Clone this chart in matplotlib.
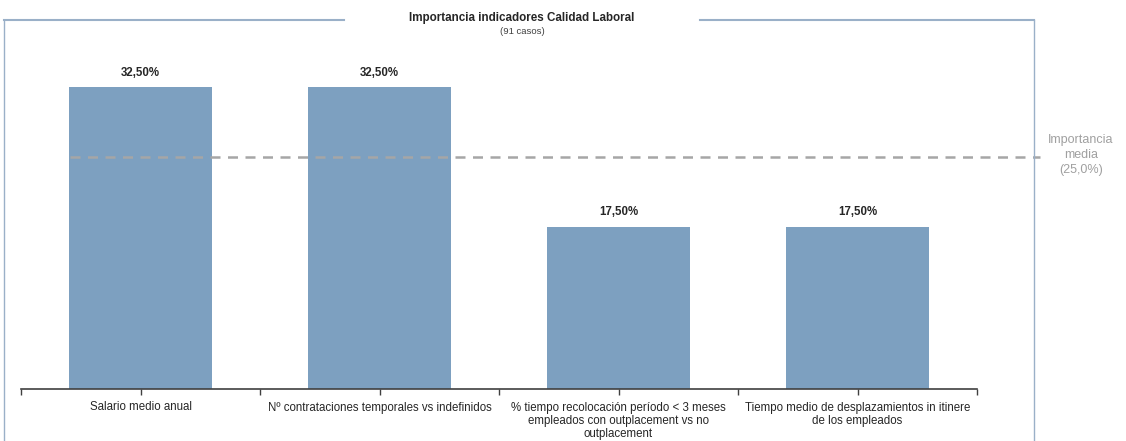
import matplotlib.pyplot as plt
from matplotlib.lines import Line2D

categorias = [
    "Salario medio anual",
    "Nº contrataciones temporales vs indefinidos",
    "% tiempo recolocación período < 3 meses\nempleados con outplacement vs no\noutplacement",
    "Tiempo medio de desplazamientos in itinere\nde los empleados",
]
importancia = [32.5, 32.5, 17.5, 17.5]
media = 25.0
etiquetas = ["32,50%", "32,50%", "17,50%", "17,50%"]

plt.rcParams['font.family'] = ['Liberation Sans', 'DejaVu Sans']

fig = plt.figure(figsize=(11.26, 4.41), dpi=100)
ax = fig.add_axes([21/1126, 52/441, 956/1126, 334/441])

x = list(range(len(categorias)))
ax.bar(x, importancia, width=0.6, color='#7DA0C0', zorder=2)
for xi, v, t in zip(x, importancia, etiquetas):
    ax.text(xi, v + 0.9, t, ha='center', va='bottom', fontsize=8.3,
            fontweight='bold', color='#262626')

# linea de importancia media
ax.axhline(media, xmin=49/956, xmax=1019/956, color='#A6A6A6', lw=1.8,
           dashes=(4, 3), clip_on=False, zorder=3)
ax.text(1.1085, 0.70, "Importancia\nmedia\n(25,0%)",
        transform=ax.transAxes, ha='center', va='center', fontsize=9,
        color='#A0A0A0', linespacing=1.35)

ax.set_xlim(-0.5, 3.5)
ax.set_ylim(0, 36)
ax.set_xticks(x)
ax.set_xticklabels(categorias, fontsize=8.3, color='#262626', linespacing=1.15)
ax.set_xticks([-0.5, 0.5, 1.5, 2.5, 3.5], minor=True)
ax.tick_params(axis='x', which='both', length=4, width=1, color='#404040', pad=5)
ax.set_yticks([])
for s in ['top', 'right', 'left']:
    ax.spines[s].set_visible(False)
ax.spines['bottom'].set_color('#404040')
ax.spines['bottom'].set_linewidth(1.2)

# marco del grafico
marco = '#9AB0C8'
fig.add_artist(Line2D([4/1126, 4/1126], [0, 1 - 20/441], color=marco, lw=1))
fig.add_artist(Line2D([1034/1126, 1034/1126], [0, 1 - 20/441], color=marco, lw=1))
fig.add_artist(Line2D([4/1126, 344/1126], [1 - 20/441] * 2, color=marco, lw=1.5))
fig.add_artist(Line2D([700/1126, 1034/1126], [1 - 20/441] * 2, color=marco, lw=1.5))

fig.text(522/1126, 1 - 18/441, "Importancia indicadores Calidad Laboral",
         ha='center', va='center', fontsize=8.4, fontweight='bold', color='#262626')
fig.text(522/1126, 1 - 31/441, "(91 casos)", ha='center', va='center',
         fontsize=6.8, color='#404040')

fig.savefig('out.png', dpi=100)
